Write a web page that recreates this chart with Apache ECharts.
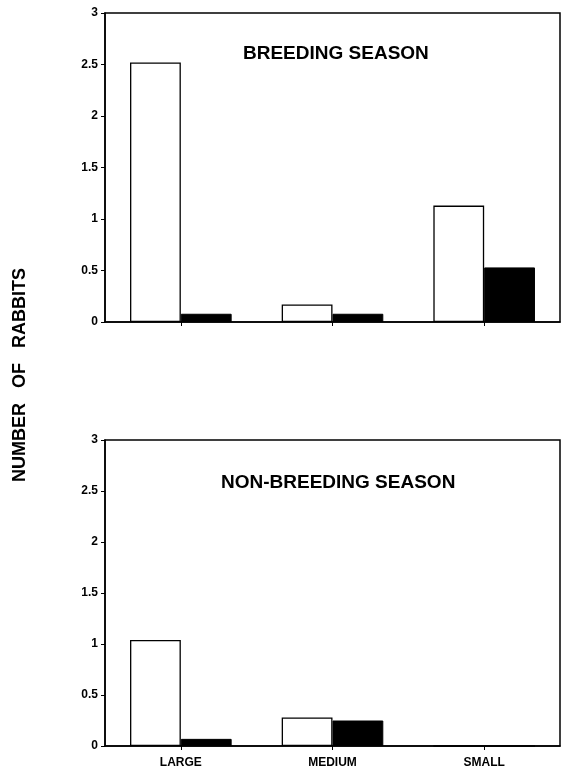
<!DOCTYPE html>
<html>
<head>
<meta charset="utf-8">
<script src="https://cdn.jsdelivr.net/npm/echarts@6/dist/echarts.min.js"></script>
<style>html,body{margin:0;padding:0;background:#fff}#c{width:565px;height:769px}</style>
</head>
<body>
<div id="c"></div>
<script>
const categories = ['LARGE', 'MEDIUM', 'SMALL'];
const yTicks = [0, 0.5, 1, 1.5, 2, 2.5, 3];
const breedingOpen = [2.52, 0.17, 1.13];
const breedingFilled = [0.08, 0.08, 0.53];
const nonBreedingOpen = [1.04, 0.28, 0];
const nonBreedingFilled = [0.07, 0.25, 0];
const panelTitles = ['BREEDING SEASON', 'NON-BREEDING SEASON'];
const yTitle = 'NUMBER   OF   RABBITS';

const FONT = 'Liberation Sans';
const chart = echarts.init(document.getElementById('c'), null, {renderer: 'canvas'});

function xAx(gi, showLabels) {
  return {
    type: 'category', gridIndex: gi, data: categories,
    axisLine: {lineStyle: {color: '#000', width: 1.5}},
    axisTick: {show: true, alignWithLabel: true, length: 4, lineStyle: {color: '#000'}},
    axisLabel: {show: showLabels, color: '#000', fontFamily: FONT, fontWeight: 'bold', fontSize: 12, margin: 11}
  };
}
function yAx(gi) {
  return {
    type: 'value', gridIndex: gi, min: yTicks[0], max: yTicks[yTicks.length - 1], interval: 0.5,
    axisLine: {show: true, lineStyle: {color: '#000', width: 1.5}},
    axisTick: {show: true, length: 4, lineStyle: {color: '#000'}},
    splitLine: {show: false},
    axisLabel: {color: '#000', fontFamily: FONT, fontWeight: 'bold', fontSize: 12, margin: 7}
  };
}
function openBar(xi, data) {
  return {type: 'bar', xAxisIndex: xi, yAxisIndex: xi, data: data, barGap: '0%', barCategoryGap: '33%',
    itemStyle: {color: '#fff', borderColor: '#000', borderWidth: 1.3}, silent: true};
}
function filledBar(xi, data) {
  return {type: 'bar', xAxisIndex: xi, yAxisIndex: xi, data: data, barGap: '0%', barCategoryGap: '33%',
    itemStyle: {color: '#000', borderColor: '#000', borderWidth: 1}, silent: true};
}

chart.setOption({
  animation: false,
  backgroundColor: '#fff',
  grid: [
    {left: 105, right: 5, top: 13, height: 309, show: true, borderColor: '#000', borderWidth: 1.5, backgroundColor: 'transparent'},
    {left: 105, right: 5, top: 440, height: 306, show: true, borderColor: '#000', borderWidth: 1.5, backgroundColor: 'transparent'}
  ],
  xAxis: [xAx(0, false), xAx(1, true)],
  yAxis: [yAx(0), yAx(1)],
  series: [
    openBar(0, breedingOpen), filledBar(0, breedingFilled),
    openBar(1, nonBreedingOpen), filledBar(1, nonBreedingFilled)
  ],
  graphic: [
    {type: 'text', left: 243, top: 44, style: {text: panelTitles[0], font: 'bold 19px "' + FONT + '"', fill: '#000'}},
    {type: 'text', left: 221, top: 473, style: {text: panelTitles[1], font: 'bold 19px "' + FONT + '"', fill: '#000'}},
    {type: 'text', x: 20, y: 375, rotation: Math.PI / 2,
      style: {text: yTitle, font: 'bold 18px "' + FONT + '"', fill: '#000', align: 'center', verticalAlign: 'middle'}}
  ]
});
</script>
</body>
</html>
